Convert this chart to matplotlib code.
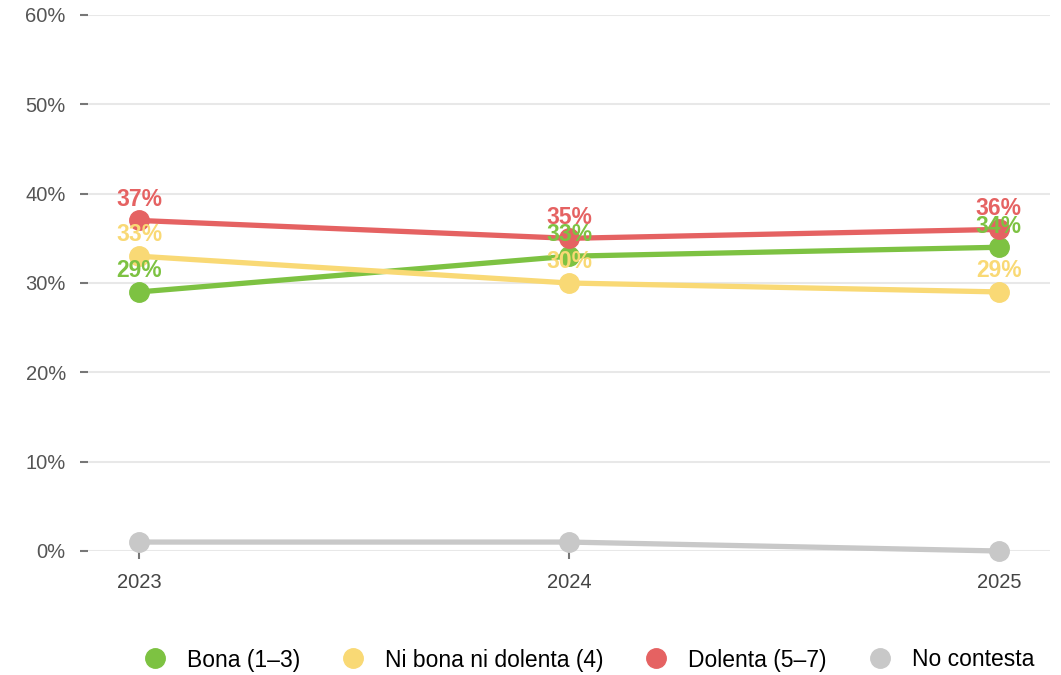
import matplotlib
matplotlib.use("Agg")
import matplotlib.pyplot as plt
from matplotlib.lines import Line2D

plt.rcParams['font.family'] = ['Liberation Sans', 'DejaVu Sans']

years = ["2023", "2024", "2025"]
bona = [29, 33, 34]
ni_bona = [33, 30, 29]
dolenta = [37, 35, 36]
no_contesta = [1, 1, 0]
series_names = ["Bona (1–3)", "Ni bona ni dolenta (4)", "Dolenta (5–7)", "No contesta"]
colors = ["#7DC242", "#F9D975", "#E56262", "#C8C8C8"]
yticks = [0, 10, 20, 30, 40, 50, 60]

fig = plt.figure(figsize=(10.61, 6.75), dpi=100)
ax = fig.add_axes([88/1061, 1-551/675, (1050-88)/1061, (551-15)/675])

x = list(range(len(years)))
all_series = [bona, ni_bona, dolenta, no_contesta]
for vals, c, name in zip(all_series, colors, series_names):
    ax.plot(x, vals, color=c, lw=3.8, marker='o', ms=14, clip_on=False, zorder=3,
            solid_capstyle='round')
for vals, c, name in zip(all_series[:3], colors[:3], series_names[:3]):
    for xi, v in zip(x, vals):
        ax.annotate(f"{v}%", (xi, v), xytext=(0, 7), textcoords='offset points',
                    ha='center', va='bottom', color=c, fontsize=16.5, fontweight='bold', zorder=5)

ax.set_ylim(0, 60)
ax.set_xlim(-0.119, 2.119)
ax.set_yticks(yticks)
ax.set_yticklabels([f"{t}%" for t in yticks])
ax.set_xticks(x)
ax.set_xticklabels(years)
ax.grid(axis='y', color='#E8E8E8', lw=1.5, zorder=0)
ax.set_axisbelow(True)
for s in ax.spines.values():
    s.set_visible(False)
ax.tick_params(axis='y', length=6, width=1.5, color='#777777', pad=10, labelsize=14.5, labelcolor='#555555')
ax.tick_params(axis='x', length=6, width=1.5, color='#777777', pad=10, labelsize=14.5, labelcolor='#444444', direction='out')

handles = [Line2D([], [], marker='o', ls='none', color=c, ms=14) for c in colors]
fig.legend(handles, series_names, loc='center', bbox_to_anchor=(583/1061, 1-660/675),
           ncol=4, frameon=False, fontsize=16.5, handletextpad=0.4, columnspacing=1.3)

fig.savefig("out.png", dpi=100)
